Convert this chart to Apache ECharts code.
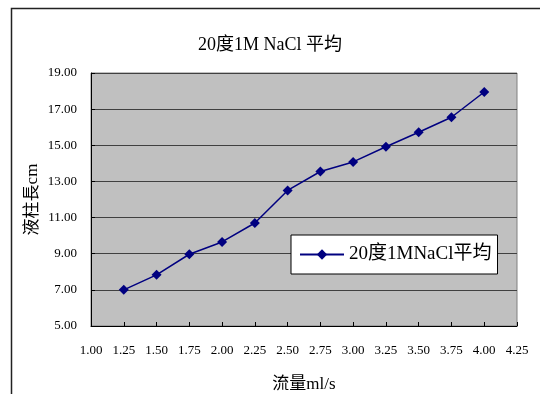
<!DOCTYPE html>
<html>
<head>
<meta charset="utf-8">
<script src="https://cdn.jsdelivr.net/npm/echarts@6/dist/echarts.min.js"></script>
<style>
  html, body { margin: 0; padding: 0; background: #fff; }
  #chart { width: 540px; height: 394px; }
</style>
</head>
<body>
<div id="chart"></div>
<script>
// Flow rate (ml/s) and measured liquid column length (cm)
const flowRates = [1.25, 1.50, 1.75, 2.00, 2.25, 2.50, 2.75, 3.00, 3.25, 3.50, 3.75, 4.00];
const columnLengths = [7.00, 7.83, 8.97, 9.65, 10.70, 12.50, 13.55, 14.08, 14.92, 15.72, 16.55, 17.95];
const seriesName = '20度1MNaCl平均';
const titleText = '20度1M NaCl 平均';
const xName = '流量ml/s';
const yName = '液柱長cm';

const FONT = '"Liberation Serif", "DejaVu Serif", "Noto Sans CJK TC", serif';

const chart = echarts.init(document.getElementById('chart'), null, { renderer: 'canvas' });

chart.setOption({
  backgroundColor: '#ffffff',
  animation: false,
  title: {
    text: titleText,
    left: 'center',
    top: 31,
    textStyle: { fontFamily: FONT, fontSize: 18, fontWeight: 'normal', color: '#000' }
  },
  graphic: [{
    type: 'rect',
    left: 9, top: 6,
    shape: { width: 640, height: 500 },
    style: { fill: 'none', stroke: '#222', lineWidth: 1.5 },
    silent: true
  }],
  grid: {
    left: 91, right: 23, top: 73, bottom: 68,
    containLabel: false,
    outerBoundsMode: 'none',
    show: true,
    backgroundColor: '#c0c0c0',
    borderColor: '#808080',
    borderWidth: 1
  },
  legend: {
    left: 291, top: 235,
    backgroundColor: '#ffffff',
    borderColor: '#000',
    borderWidth: 1,
    padding: [10, 6, 10, 8],
    itemWidth: 44,
    itemHeight: 13,
    itemGap: 6,
    textStyle: { fontFamily: FONT, fontSize: 19, color: '#000' },
    data: [seriesName]
  },
  xAxis: {
    type: 'value',
    min: 1.00, max: 4.25, interval: 0.25,
    name: xName,
    nameLocation: 'middle',
    nameGap: 50,
    nameMoveOverlap: false,
    nameTextStyle: { fontFamily: FONT, fontSize: 17, color: '#000' },
    axisLine: { show: true, onZero: false, lineStyle: { color: '#000', width: 1 } },
    axisTick: { show: true, inside: true, length: 4, lineStyle: { color: '#000' } },
    axisLabel: { fontFamily: FONT, fontSize: 13, color: '#000', margin: 18,
                 formatter: v => v.toFixed(2) },
    splitLine: { show: false }
  },
  yAxis: {
    type: 'value',
    min: 5, max: 19, interval: 2,
    name: yName,
    nameLocation: 'middle',
    nameGap: 50,
    nameMoveOverlap: false,
    nameTextStyle: { fontFamily: FONT, fontSize: 17, color: '#000' },
    axisLine: { show: true, lineStyle: { color: '#000', width: 1 } },
    axisTick: { show: true, inside: true, length: 4, lineStyle: { color: '#000' } },
    axisLabel: { fontFamily: FONT, fontSize: 13, color: '#000', margin: 14,
                 formatter: v => v.toFixed(2) },
    splitLine: { show: true, lineStyle: { color: '#404040', width: 1 } }
  },
  series: [{
    name: seriesName,
    type: 'line',
    data: flowRates.map((x, i) => [x, columnLengths[i]]),
    symbol: 'diamond',
    symbolSize: 10,
    itemStyle: { color: '#000080' },
    lineStyle: { color: '#000080', width: 1.5 }
  }]
});
</script>
</body>
</html>
